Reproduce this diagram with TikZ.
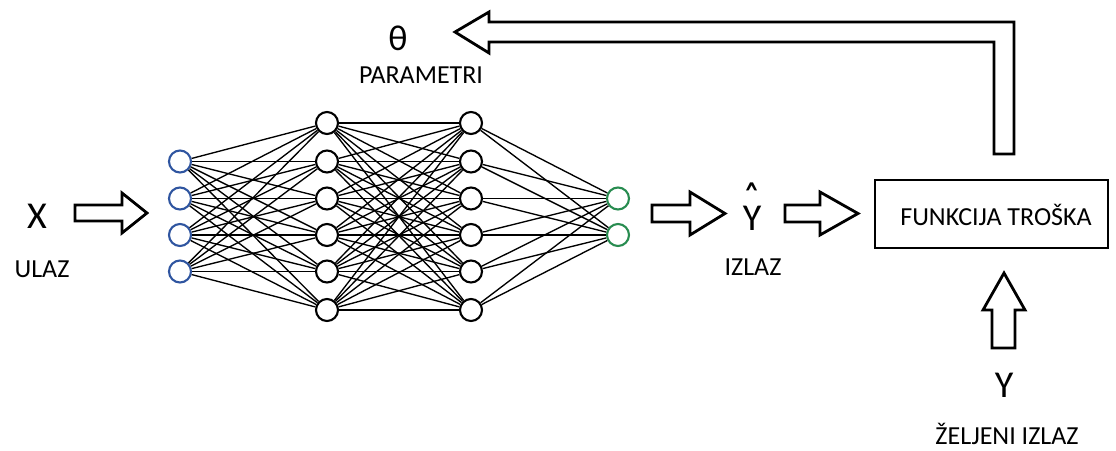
\documentclass[tikz,border=0pt]{standalone}
\usepackage{graphicx}
\usepackage{fontspec}
\setmainfont{Carlito}
\definecolor{inblue}{RGB}{47,85,160}
\definecolor{outgreen}{RGB}{40,140,80}
\tikzset{
  neuron/.style={circle,draw=black,line width=2.1pt,minimum size=22pt,inner sep=0pt,fill=white},
  inneuron/.style={neuron,draw=inblue},
  outneuron/.style={neuron,draw=outgreen},
  edge/.style={line width=1.35pt,black},
  blockarrow/.style={draw=black,line width=2.8pt,line join=miter,fill=white},
  lbl/.style={font=\fontsize{26}{30}\selectfont,inner sep=0pt,anchor=base},
  biglbl/.style={font=\fontsize{38}{42}\selectfont,inner sep=0pt,anchor=base},
  costbox/.style={draw=black,line width=2.8pt,minimum width=233pt,minimum height=68pt,inner sep=0pt}
}
\begin{document}
\begin{tikzpicture}[x=1pt,y=-1pt]
\useasboundingbox (0,0) rectangle (1116,450);
% layers
\foreach \i/\y in {1/161.5,2/198.5,3/235,4/271.5}
  \node[inneuron] (i\i) at (180,\y) {};
\foreach \i/\y in {1/123,2/161.5,3/198.5,4/235,5/271.5,6/310}{
  \node[neuron] (a\i) at (327,\y) {};
  \node[neuron] (b\i) at (471,\y) {};
}
\node[outneuron] (o1) at (618,198.5) {};
\node[outneuron] (o2) at (618,235) {};
% edges
\foreach \i in {1,...,4}
  \foreach \j in {1,...,6}
    \draw[edge] (i\i) -- (a\j);
\foreach \i in {1,...,6}
  \foreach \j in {1,...,6}
    \draw[edge] (a\i) -- (b\j);
\foreach \i in {1,...,6}
  \foreach \j in {1,2}
    \draw[edge] (b\i) -- (o\j);
% labels
\node[biglbl] (x) at (37,228) {X};
\node[lbl] (ulaz) at (42,277) {ULAZ};
\node[biglbl] (yhat) at (752,230) {\ooalign{Y\cr\hidewidth\raisebox{4pt}{\scalebox{1.0}[1.7]{ˆ}}\hidewidth\cr}};
\node[lbl] (izlaz) at (753,275) {IZLAZ};
\node[biglbl,font=\fontsize{36}{40}\selectfont] (theta) at (398,50) {θ};
\node[lbl] (param) at (421,83) {PARAMETRI};
\node[costbox] (cost) at (991.5,214) {};
\node[lbl] (costtxt) at (996,225) {FUNKCIJA TROŠKA};
\node[biglbl] (y) at (1004,397) {Y};
\node[lbl] (zelj) at (1007,444) {ŽELJENI IZLAZ};
% block arrows
\draw[blockarrow] (75,205) -- (122,205) -- (122,193) -- (147,213) -- (122,233) -- (122,221) -- (75,221) -- cycle;
\draw[blockarrow] (652,205) -- (690,205) -- (690,192) -- (725,213.5) -- (690,235) -- (690,222) -- (652,222) -- cycle;
\draw[blockarrow] (785,205) -- (820,205) -- (820,192) -- (858,213.5) -- (820,235) -- (820,222) -- (785,222) -- cycle;
\draw[blockarrow] (455,32) -- (489,12) -- (489,22) -- (1014,22) -- (1014,154) -- (994,154) -- (994,42) -- (489,42) -- (489,53) -- cycle;
\draw[blockarrow] (1004,273) -- (1025,310) -- (1015,310) -- (1015,348) -- (992,348) -- (992,310) -- (983,310) -- cycle;
\end{tikzpicture}
\end{document}
